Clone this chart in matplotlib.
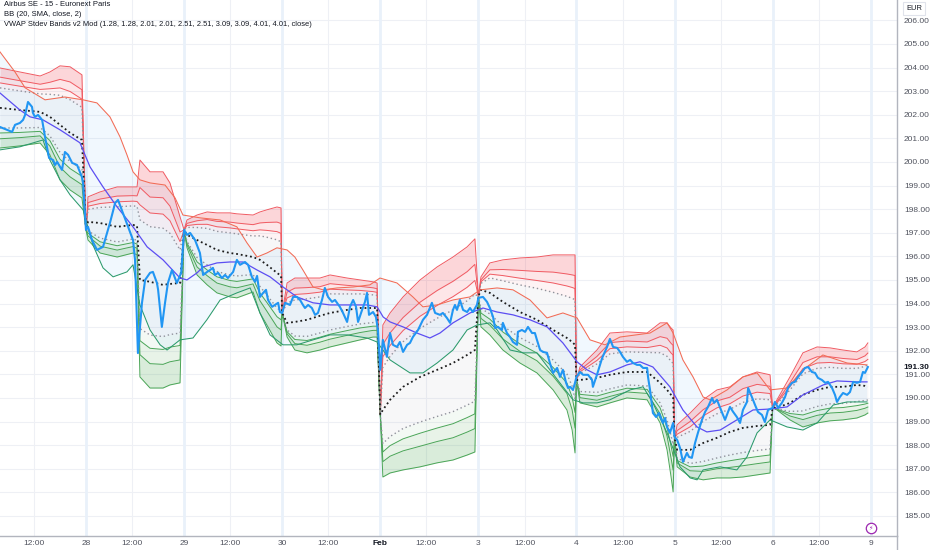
import numpy as np
import matplotlib
matplotlib.use("Agg")
import matplotlib.pyplot as plt
from matplotlib.lines import Line2D

plt.rcParams['font.family'] = ['Liberation Sans', 'DejaVu Sans']

# ---------------- data (x = 15-minute bar index, 34 bars per session) ----------------
price_bar = [4.2, 6.6, 8.4, 9.4, 11.1, 12.2, 12.9, 13.9, 15.3, 15.6, 16.3, 17.4, 18.8, 19.8, 21.2, 22.6, 23.3, 24.0,
             25.7, 26.7, 27.8, 29.2, 30.9, 32.6, 33.0, 34.0, 34.7, 36.1, 37.8, 39.9, 42.3, 44.1, 45.1, 46.8, 48.6,
             50.3, 51.0, 52.0, 53.4, 54.5, 56.2, 57.2, 58.6, 59.0, 60.3, 61.4, 62.4, 63.8, 65.5, 67.0, 68.0, 69.0,
             70.1, 71.8, 73.5, 74.6, 76.0, 77.0, 78.0, 78.7, 79.8, 81.1, 82.2, 83.2, 85.0, 86.3, 87.4, 89.1, 90.2,
             91.5, 92.6, 93.3, 94.3, 95.4, 96.4, 97.1, 98.5, 99.5, 100.6, 101.2, 102.0, 103.0, 104.7, 105.8, 107.1,
             108.2, 109.2, 109.9, 111.0, 112.3, 113.4, 114.4, 115.8, 116.8, 117.9, 119.3, 120.3, 122.0, 123.1,
             124.5, 125.5, 126.6, 127.6, 128.3, 129.7, 130.7, 131.4, 132.1, 133.5, 134.5, 135.2, 136.0, 136.9,
             138.3, 139.4, 140.4, 141.8, 142.8, 143.9, 145.3, 146.3, 147.3, 149.1, 150.8, 152.2, 153.9, 155.0,
             156.7, 157.7, 159.1, 160.2, 161.2, 161.9, 162.6, 163.6, 164.7, 166.1, 167.1, 168.1, 169.5, 170.0,
             171.6, 173.0, 174.0, 175.1, 175.8, 176.8, 178.2, 178.5, 179.9, 181.0, 182.0, 183.4, 183.7, 185.1,
             186.2, 187.2, 188.6, 189.6, 190.3, 191.4, 192.4, 193.8, 194.8, 195.9, 197.3, 198.3, 199.3, 200.4,
             201.1, 201.8, 202.8, 203.5, 204.0, 205.2, 206.3, 208.0, 209.4, 209.7, 211.1, 212.9, 214.6, 215.6,
             216.7, 218.1, 219.1, 220.1, 221.5, 222.6, 223.6, 225.0, 226.0, 227.1, 228.5, 228.8, 229.5, 230.5,
             231.6, 232.6, 234.0, 234.7, 235.4, 236.4, 237.5, 238.0, 238.9, 239.9, 240.9, 242.3, 243.0, 244.0,
             245.1, 246.1, 247.5, 248.6, 249.6, 251.0, 251.7, 252.7, 253.8, 255.5, 257.2, 258.3, 259.6, 260.7,
             261.7, 263.1, 263.5, 264.8, 265.9, 266.9, 268.3, 269.3, 270.4, 272.0, 272.8, 273.9, 275.2, 276.3,
             277.3, 278.7, 279.7, 280.8, 282.2, 283.2, 284.3, 285.6, 286.7, 287.7, 289.1, 290.2, 291.2, 292.6,
             293.6, 294.3, 295.3, 296.4, 297.8, 298.8, 299.9, 301.2, 302.3, 303.3, 304.0, 305.0]
price_close = [201.48, 201.36, 201.27, 201.57, 201.65, 201.78, 201.99, 202.54, 202.33, 202.08, 201.91, 201.99,
               201.78, 201.06, 200.17, 200.08, 199.87, 200.00, 199.66, 200.42, 200.30, 199.96, 199.87, 199.36,
               199.11, 197.12, 197.25, 196.69, 196.27, 196.40, 197.41, 198.26, 198.39, 197.84, 197.25, 196.69,
               195.85, 191.90, 194.02, 195.00, 195.30, 195.34, 194.87, 194.58, 193.01, 194.03, 194.87, 195.42,
               194.87, 195.30, 197.12, 196.91, 196.99, 196.69, 196.14, 195.21, 195.34, 195.42, 195.51, 195.21,
               195.30, 195.08, 195.21, 195.08, 195.34, 195.85, 195.64, 195.76, 195.64, 195.13, 194.92, 195.17,
               194.28, 194.45, 194.58, 194.15, 193.86, 193.94, 194.03, 193.64, 193.60, 194.03, 193.94, 194.28,
               194.28, 194.15, 193.94, 193.81, 193.94, 193.81, 193.52, 193.60, 194.15, 194.66, 194.28, 194.07,
               194.15, 193.86, 193.60, 193.22, 193.86, 194.15, 193.86, 193.22, 193.73, 194.07, 194.45, 193.52,
               193.64, 193.43, 192.88, 191.19, 192.46, 191.74, 192.75, 192.25, 192.16, 192.37, 191.95, 192.25,
               192.33, 192.58, 192.88, 193.31, 193.52, 194.03, 193.60, 193.52, 193.60, 193.39, 193.18, 193.73,
               193.94, 193.73, 194.15, 193.73, 193.64, 193.81, 193.64, 193.94, 194.24, 194.28, 194.07, 193.81,
               193.43, 192.96, 193.01, 192.88, 193.18, 192.75, 192.58, 192.37, 192.25, 192.80, 192.88, 192.80,
               193.01, 192.75, 192.75, 192.46, 192.03, 191.95, 191.91, 191.48, 191.06, 191.27, 190.89, 191.19,
               190.64, 190.42, 190.47, 190.34, 190.64, 190.89, 191.10, 190.98, 190.98, 190.76, 190.47, 190.98,
               191.69, 192.16, 192.50, 192.16, 192.12, 191.95, 191.74, 191.53, 191.61, 191.48, 191.40, 191.40,
               191.27, 191.27, 190.89, 190.34, 189.36, 189.19, 189.36, 188.94, 189.15, 188.77, 188.52, 188.94,
               188.35, 188.22, 187.88, 187.29, 187.67, 187.50, 187.46, 188.09, 188.52, 189.07, 189.41, 189.62,
               190.00, 189.79, 189.92, 189.58, 189.07, 189.62, 189.41, 189.19, 188.94, 189.49, 189.83, 190.42,
               190.04, 189.70, 189.41, 189.28, 188.98, 189.49, 189.58, 189.83, 189.58, 189.79, 190.04, 190.42,
               190.64, 190.68, 190.89, 191.10, 191.27, 191.31, 191.10, 191.06, 190.85, 190.76, 190.64, 190.68,
               190.42, 190.13, 189.83, 190.04, 190.21, 190.13, 190.25, 190.68, 190.64, 190.68, 191.10, 191.06,
               191.31]

bb_basis_bar = [4.2, 11.1, 14.6, 19.1, 25.0, 31.9, 35.4, 39.9, 44.8, 50.3, 55.2, 60.7, 66.6, 69.0, 72.5, 74.6,
                79.4, 83.9, 88.4, 93.3, 97.8, 102.3, 107.1, 112.7, 118.6, 124.5, 131.4, 134.9, 137.0, 139.4,
                143.9, 148.7, 153.2, 156.7, 161.2, 167.1, 171.6, 176.5, 182.0, 187.9, 193.8, 199.3, 204.2,
                207.7, 211.1, 215.6, 221.5, 226.0, 230.5, 236.4, 240.9, 245.8, 249.2, 253.8, 259.6, 265.2,
                271.1, 277.0, 282.5, 289.5, 294.3, 301.2, 304.7]
bb_basis = [202.92, 202.20, 201.91, 201.78, 201.36, 200.81, 199.79, 198.94, 198.09, 197.25, 196.40, 195.85,
            195.08, 195.00, 195.30, 195.55, 195.72, 195.76, 195.76, 195.42, 195.13, 194.70, 194.28, 194.03,
            193.94, 193.94, 193.94, 193.86, 193.43, 193.22, 193.01, 192.75, 192.54, 192.75, 193.18, 193.60,
            193.81, 193.64, 193.52, 193.31, 193.01, 192.33, 191.53, 191.19, 190.98, 191.10, 191.40, 191.53,
            191.31, 190.47, 189.49, 188.77, 188.56, 188.64, 189.07, 189.49, 189.53, 189.62, 190.13, 190.55,
            190.72, 190.68, 190.68]

bb_upper_bar = [4.2, 9.4, 12.9, 19.8, 26.7, 33.0, 37.8, 42.3, 45.8, 48.2, 50.3, 52.7, 56.2, 61.4, 64.9, 67.6,
                73.5, 80.5, 86.3, 89.8, 93.3, 96.7, 100.2, 103.7, 106.4, 109.2, 112.7, 116.2, 121.0, 126.6,
                132.4, 135.9, 141.8, 147.3, 150.8, 155.7, 161.2, 167.1, 170.6, 176.5, 182.0, 187.9, 193.8,
                199.3, 204.2, 208.7, 213.9, 219.1, 229.5, 235.4, 237.5, 240.9, 244.4, 247.9, 250.3, 256.2,
                261.7, 266.6, 271.1, 277.0, 282.5, 289.4, 297.8, 304.7]
bb_upper = [204.66, 203.81, 203.14, 202.63, 202.75, 202.63, 202.50, 201.91, 201.06, 200.30, 199.58, 199.24,
            199.11, 199.02, 198.47, 197.75, 197.63, 197.54, 197.25, 196.57, 195.97, 196.14, 196.36, 196.27,
            195.97, 195.42, 194.70, 194.58, 194.66, 194.70, 194.79, 195.08, 194.87, 194.28, 193.86, 193.94,
            194.15, 194.28, 194.58, 194.66, 194.58, 194.15, 193.39, 193.60, 193.39, 192.46, 192.25, 192.58,
            192.75, 193.18, 192.75, 191.61, 190.89, 190.04, 189.92, 190.34, 190.89, 191.06, 190.34, 190.42,
            191.19, 191.82, 191.48, 191.40]

bb_lower_bar = [4.2, 11.1, 19.1, 21.5, 25.0, 28.5, 33.0, 36.4, 39.9, 43.4, 48.2, 50.3, 52.7, 56.2, 59.7, 62.1,
                66.6, 71.1, 75.9, 80.5, 86.3, 90.9, 94.3, 97.8, 102.3, 107.1, 112.7, 118.6, 124.5, 131.4,
                134.9, 139.4, 146.3, 150.8, 155.7, 161.2, 166.1, 169.5, 174.0, 176.5, 181.0, 185.5, 190.3,
                194.8, 199.3, 202.8, 206.3, 211.1, 215.6, 222.6, 227.1, 230.5, 235.4, 239.9, 243.4, 245.8,
                247.9, 253.8, 259.6, 263.1, 266.6, 271.1, 277.0, 282.5, 287.4, 293.0, 297.8, 304.7]
bb_lower = [200.51, 200.64, 200.93, 200.08, 199.24, 198.60, 197.97, 196.48, 195.51, 195.13, 195.34, 195.64,
            193.94, 192.88, 192.25, 192.03, 192.46, 192.54, 193.31, 194.15, 194.45, 194.66, 193.60, 192.67,
            192.25, 192.25, 192.46, 192.67, 192.67, 192.54, 192.37, 191.61, 191.06, 191.06, 191.48, 192.03,
            192.88, 193.09, 193.18, 192.88, 192.03, 191.91, 191.91, 191.19, 190.47, 189.92, 189.79, 189.79,
            189.92, 190.34, 190.47, 189.79, 188.52, 187.08, 186.61, 186.53, 186.95, 187.08, 186.95, 187.50,
            188.52, 189.07, 188.77, 188.64, 188.94, 189.70, 189.83, 189.83]

# anchored VWAP (resets every session) with its outermost (4.01) bands
vwap_bar = [4.2, 11.1, 18.1, 21.5, 25.0, 28.5, 32.6,
            34.0, 34.7, 38.9, 44.8, 50.3, 51.7, 52.7, 56.2, 60.7, 63.1, 66.6,
            68.0, 69.0, 72.5, 76.0, 79.4, 83.9, 86.3, 91.9, 94.3, 96.7, 100.2, 101.6,
            102.0, 103.7, 106.4, 110.6, 115.1, 118.6, 124.5, 129.0, 133.5, 134.9,
            136.0, 136.9, 139.4, 143.9, 149.8, 155.7, 161.2, 166.1, 168.8,
            170.0, 170.9, 174.0, 178.5, 184.4, 190.3, 195.9, 200.7, 202.5, 203.5,
            204.0, 205.2, 211.1, 215.6, 221.5, 228.5, 233.0, 235.4, 236.8, 237.5,
            238.0, 238.9, 243.4, 247.9, 252.7, 257.2, 261.7, 266.6, 271.1,
            272.0, 273.5, 278.0, 282.5, 287.4, 291.9, 296.4, 301.2, 304.0, 305.0]
vwap_mid = [202.29, 202.20, 202.12, 201.91, 201.57, 201.23, 200.93,
            197.12, 197.46, 197.41, 197.25, 197.33, 197.29, 195.00, 194.92, 194.79, 194.83, 194.87,
            197.12, 196.91, 196.69, 196.48, 196.27, 196.14, 196.10, 195.97, 195.85, 195.64, 195.30, 195.17,
            193.60, 193.18, 193.22, 193.31, 193.48, 193.60, 193.73, 193.81, 193.81, 193.81,
            189.30, 189.49, 189.92, 190.47, 190.89, 191.19, 191.48, 191.82, 192.03,
            194.30, 194.58, 194.45, 194.07, 193.64, 193.31, 192.88, 192.54, 192.37, 192.25,
            190.76, 190.76, 190.85, 190.98, 191.10, 191.10, 190.64, 190.34, 190.13, 190.04,
            188.30, 187.80, 187.80, 188.09, 188.31, 188.56, 188.73, 188.81, 188.86,
            189.58, 189.58, 189.79, 190.13, 190.34, 190.47, 190.47, 190.55, 190.51, 190.47]
vwap_top = [203.98, 203.81, 203.64, 203.81, 204.07, 204.03, 203.69,
            197.12, 198.52, 198.73, 198.94, 198.94, 198.94, 200.08, 199.58, 199.58, 199.11, 197.67,
            197.12, 197.54, 197.75, 197.88, 197.84, 197.84, 197.80, 197.75, 197.88, 197.97, 198.09, 198.05,
            193.60, 194.87, 195.08, 195.08, 195.08, 195.21, 195.08, 195.00, 194.92, 194.87,
            189.30, 193.09, 193.60, 194.28, 195.00, 195.55, 195.97, 196.40, 196.74,
            194.30, 195.13, 195.72, 195.85, 195.93, 195.97, 196.06, 196.06, 196.06, 196.06,
            190.76, 191.31, 192.03, 192.75, 192.80, 192.75, 193.18, 193.18, 192.96, 192.88,
            188.30, 188.86, 189.36, 189.92, 190.34, 190.47, 190.89, 191.10, 190.98,
            189.58, 189.92, 190.89, 191.91, 192.16, 192.12, 192.03, 191.95, 192.16, 192.33]
vwap_bot = [200.59, 200.68, 200.80, 200.30, 199.24, 198.81, 198.47,
            197.12, 196.69, 196.14, 195.97, 196.14, 196.06, 190.89, 190.42, 190.42, 190.55, 190.64,
            197.12, 196.36, 195.21, 194.79, 194.45, 194.28, 194.24, 194.49, 193.60, 193.09, 192.33, 192.20,
            193.60, 192.58, 192.03, 191.91, 192.03, 192.16, 192.33, 192.46, 192.58, 192.58,
            189.30, 186.65, 186.82, 186.95, 187.08, 187.25, 187.37, 187.58, 187.71,
            194.30, 193.01, 192.67, 192.03, 191.48, 191.06, 190.34, 189.49, 188.64, 187.67,
            190.76, 189.79, 189.62, 189.79, 190.00, 189.92, 188.94, 187.80, 186.65, 186.02,
            188.30, 187.08, 186.65, 186.53, 186.61, 186.61, 186.65, 186.74, 186.82,
            189.58, 189.49, 189.07, 188.77, 188.94, 189.03, 189.07, 189.15, 189.28, 189.36]

band_mults = [1.28, 2.01, 2.51, 3.09, 4.01]
day_tick_labels = ['27', '28', '29', '30', 'Feb', '3', '4', '5', '6', '9']
last_price = 191.30
price_ticks = list(range(185, 207))

BARS_PER_DAY = 34
NOON_OFFSET = 16

# ---------------- figure ----------------
W, H = 932, 550
fig = plt.figure(figsize=(W / 100, H / 100), dpi=100)
fig.patch.set_facecolor('white')
ax = fig.add_axes([0, 14 / H, 897 / W, 536 / H])
ax.set_facecolor('white')
ax.set_xlim(4.2, 315.1)
ax.set_ylim(184.15, 206.86)

# grid
for p in price_ticks:
    ax.axhline(p, color='#eef0f5', lw=0.8, zorder=0)
for d in range(len(day_tick_labels)):
    ax.axvline(d * BARS_PER_DAY + NOON_OFFSET, color='#eef0f5', lw=0.8, zorder=0)
    if d >= 1:
        ax.axvline(d * BARS_PER_DAY, color='#e9f1fa', lw=2.0, zorder=0)

# Bollinger fill
ub = np.array(bb_upper_bar); uv = np.array(bb_upper)
lb = np.array(bb_lower_bar); lv = np.array(bb_lower)
ax.fill(np.r_[ub, lb[::-1]], np.r_[uv, lv[::-1]], color='#2196f3', alpha=0.06, lw=0, zorder=1)

# VWAP bands
vb = np.array(vwap_bar); vm = np.array(vwap_mid)
su = (np.array(vwap_top) - vm) / band_mults[-1]
sd = (vm - np.array(vwap_bot)) / band_mults[-1]
up = {k: vm + k * su for k in band_mults}
dn = {k: vm - k * sd for k in band_mults}
day_id = np.floor(vb / BARS_PER_DAY + 1e-9).astype(int)

red = '#f23645'
green = '#43a047'
for d in np.unique(day_id):
    m = day_id == d
    x = vb[m]
    ax.fill_between(x, dn[2.01][m], up[2.01][m], color='#9598a1', alpha=0.07, lw=0, zorder=1)
    ax.fill_between(x, up[2.01][m], up[2.51][m], color=red, alpha=0.06, lw=0, zorder=1)
    ax.fill_between(x, up[2.51][m], up[3.09][m], color=red, alpha=0.12, lw=0, zorder=1)
    ax.fill_between(x, up[3.09][m], up[4.01][m], color=red, alpha=0.20, lw=0, zorder=1)
    ax.fill_between(x, dn[2.51][m], dn[2.01][m], color=green, alpha=0.06, lw=0, zorder=1)
    ax.fill_between(x, dn[3.09][m], dn[2.51][m], color=green, alpha=0.12, lw=0, zorder=1)
    ax.fill_between(x, dn[4.01][m], dn[3.09][m], color=green, alpha=0.20, lw=0, zorder=1)

for k in (2.51, 3.09, 4.01):
    ax.plot(vb, up[k], color='#f05a62', lw=0.7, zorder=3)
    ax.plot(vb, dn[k], color='#4aa557', lw=0.7, zorder=3)
ax.plot(vb, up[2.01], color='#8f929b', lw=1.0, ls=(0, (1, 2)), zorder=3)
ax.plot(vb, dn[2.01], color='#8f929b', lw=1.0, ls=(0, (1, 2)), zorder=3)
ax.plot(vb, vm, color='#1c1c1c', lw=1.3, ls=(0, (1, 1.6)), zorder=4)

# Bollinger lines
ax.plot(bb_upper_bar, bb_upper, color='#f26b55', lw=0.75, zorder=4)
ax.plot(bb_lower_bar, bb_lower, color='#2b9a6c', lw=0.75, zorder=4)
ax.plot(bb_basis_bar, bb_basis, color='#5c4ef2', lw=0.9, zorder=5)

# price
ax.plot(price_bar, price_close, color='#2196f3', lw=1.5, zorder=6, solid_joinstyle='round')

# axes styling
for s in ('top', 'left'):
    ax.spines[s].set_visible(False)
for s in ('right', 'bottom'):
    ax.spines[s].set_color('#b2b5be')
    ax.spines[s].set_linewidth(1.0)
fig.add_artist(Line2D([897 / W, 897 / W], [0, 14 / H], color='#b2b5be', lw=1.0))

ax.yaxis.tick_right()
ax.set_yticks(price_ticks)
ax.set_yticklabels([f'{p:.2f}' for p in price_ticks])
ax.tick_params(axis='y', length=0, pad=5, labelsize=6.0, labelcolor='#50535e')

xt, xl = [], []
for d, lab in enumerate(day_tick_labels):
    if d >= 1:
        xt.append(d * BARS_PER_DAY); xl.append(lab)
    if d < len(day_tick_labels) - 1:
        xt.append(d * BARS_PER_DAY + NOON_OFFSET); xl.append('12:00')
order = np.argsort(xt)
ax.set_xticks([xt[i] for i in order])
ax.set_xticklabels([xl[i] for i in order])
ax.tick_params(axis='x', length=0, pad=3, labelsize=6.0, labelcolor='#50535e')
for t in ax.get_xticklabels():
    if t.get_text() == 'Feb':
        t.set_fontweight('bold')
        t.set_color('#131722')

# last price label
ax.text(1.0067, last_price, f'{last_price:.2f}', transform=ax.get_yaxis_transform(), ha='left', va='center',
        fontsize=6.0, fontweight='bold', color='#131722', clip_on=False)

# currency box
fig.text(914 / W, 1 - 8.5 / H, 'EUR', ha='center', va='center', fontsize=5.4, color='#131722',
         bbox=dict(boxstyle='square,pad=0.45', fc='white', ec='#e0e3eb', lw=0.8))

# legend texts
fig.text(4 / W, 1 - 5 / H, 'Airbus SE - 15 - Euronext Paris', ha='left', va='center', fontsize=5.5, color='#131722')
fig.text(4 / W, 1 - 15 / H, 'BB (20, SMA, close, 2)', ha='left', va='center', fontsize=5.5, color='#131722')
fig.text(4 / W, 1 - 24.5 / H,
         'VWAP Stdev Bands v2 Mod (1.28, 1.28, 2.01, 2.01, 2.51, 2.51, 3.09, 3.09, 4.01, 4.01, close)',
         ha='left', va='center', fontsize=5.4, color='#131722')

# event marker
ev_x = 9 * BARS_PER_DAY
ax.plot(ev_x, 184.49, marker='o', ms=7.5, mfc='white', mec='#9c27b0', mew=0.9, zorder=7, clip_on=False)
ax.text(ev_x, 184.49, '\u26a1', fontsize=4.5, color='#9c27b0', ha='center', va='center', zorder=8,
        family=['DejaVu Sans'])

fig.savefig('out.png', dpi=100, facecolor='white')
